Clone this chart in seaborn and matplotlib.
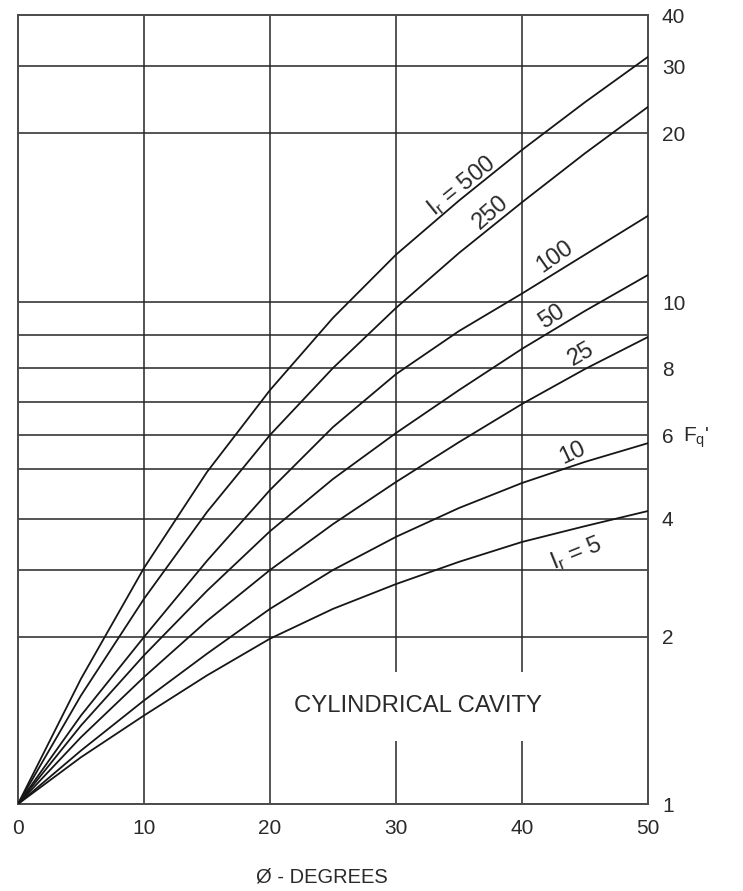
import numpy as np
import pandas as pd
import seaborn as sns
import matplotlib.pyplot as plt

# friction angle (degrees) and F_q' for each rigidity index
phi = [0, 5, 10, 15, 20, 25, 30, 35, 40, 45, 50]
ir_500 = [1, 1.75, 3.04, 4.94, 7.35, 9.52, 12.8, 16.0, 19.0, 24.6, 31.8]
ir_250 = [1, 1.65, 2.57, 4.14, 6.0, 8.0, 9.82, 12.9, 15.9, 18.8, 23.9]
ir_100 = [1, 1.53, 2.0, 3.18, 4.58, 6.24, 7.82, 9.12, 10.5, 12.8, 15.1]
ir_50 = [1, 1.47, 1.89, 2.69, 3.76, 4.80, 6.06, 7.35, 8.58, 9.73, 11.6]
ir_25 = [1, 1.40, 1.76, 2.24, 3.0, 3.90, 4.74, 5.79, 6.94, 7.97, 8.94]
ir_10 = [1, 1.32, 1.62, 1.90, 2.42, 3.0, 3.65, 4.22, 4.72, 5.21, 5.76]
ir_5 = [1, 1.28, 1.53, 1.77, 1.99, 2.42, 2.79, 3.16, 3.55, 3.86, 4.16]

curves = {500: ir_500, 250: ir_250, 100: ir_100, 50: ir_50,
          25: ir_25, 10: ir_10, 5: ir_5}

x_ticks = [0, 10, 20, 30, 40, 50]
y_ticks = [1, 2, 4, 6, 8, 10, 20, 30, 40]
h_grid = [2, 3, 4, 5, 6, 7, 8, 9, 10, 20, 30]
v_grid = [10, 20]
v_gap = [30, 40]   # these two are broken around the caption

# the printed axis is not a true log axis, so map it piecewise
scale_vals = [1, 2, 3, 4, 5, 6, 7, 8, 9, 10, 20, 30, 40]
scale_pos = [0, 167, 234, 285, 335, 369, 402, 436, 469, 502, 671, 738, 789]

def fwd(v):
    return np.interp(np.asarray(v, dtype=float), scale_vals, scale_pos)

def inv(p):
    return np.interp(np.asarray(p, dtype=float), scale_pos, scale_vals)

rows = []
for ir, vals in curves.items():
    for x, y in zip(phi, vals):
        rows.append({"phi": x, "Fq": y, "Ir": ir})
df = pd.DataFrame(rows)

sns.set_style("white")
plt.rcParams["font.family"] = ["Liberation Sans", "DejaVu Sans"]

W, H = 743, 891
fig = plt.figure(figsize=(W / 100, H / 100), dpi=100)
ax = fig.add_axes([18 / W, 1 - 804 / H, 630 / W, 789 / H])

line_col = "#161616"
grid_col = "#262626"
text_col = "#2a2a2a"

for y in h_grid:
    ax.axhline(y, color=grid_col, lw=1.1, zorder=1)
for x in v_grid:
    ax.axvline(x, color=grid_col, lw=1.1, zorder=1)
for x in v_gap:
    ax.vlines(x, 1, 1.38, color=grid_col, lw=1.1, zorder=1)
    ax.vlines(x, 1.79, 40, color=grid_col, lw=1.1, zorder=1)

sns.lineplot(data=df, x="phi", y="Fq", hue="Ir", units="Ir", estimator=None,
             palette=[line_col] * len(curves), legend=False, lw=1.3,
             ax=ax, zorder=3)

ax.set_yscale("function", functions=(fwd, inv))
ax.set_xlim(0, 50)
ax.set_ylim(1, 40)
ax.set_xticks(x_ticks)
ax.set_xticklabels([str(t) for t in x_ticks])
ax.yaxis.tick_right()
ax.set_yticks(y_ticks)
ax.set_yticklabels([str(t) for t in y_ticks])
ax.yaxis.set_minor_locator(plt.NullLocator())
ax.tick_params(axis="x", length=0, pad=11, labelsize=15, labelcolor=text_col)
ax.tick_params(axis="y", length=0, pad=10, labelsize=15, labelcolor=text_col)
ax.set_xlabel("")
ax.set_ylabel("")
for s in ax.spines.values():
    s.set_visible(True)
    s.set_color("#4a4a4a")
    s.set_linewidth(1.4)

def px(x, y):
    return x / W, 1 - y / H

# curve labels
labels = [
    (r"$\mathregular{I_r}$ = 500", 461, 186, 39),
    ("250", 491, 213, 41),
    ("100", 555, 257, 35),
    ("50", 552, 317, 33),
    ("25", 581, 354, 30),
    ("10", 573, 453, 25),
    (r"$\mathregular{I_r}$ = 5", 576, 553, 22),
]
for txt, x, y, rot in labels:
    fig.text(*px(x, y), txt, rotation=rot, fontsize=17, color=text_col,
             ha="center", va="center", rotation_mode="anchor")

fig.text(*px(418, 706), "CYLINDRICAL CAVITY", fontsize=17.2,
         color=text_col, ha="center", va="center")
fig.text(*px(322, 877), "Ø - DEGREES", fontsize=14.5, color=text_col,
         ha="center", va="center")
fig.text(*px(696, 438), r"$\mathregular{F_q}$'", fontsize=15,
         color=text_col, ha="center", va="center")

fig.savefig("out.png", dpi=100, facecolor="white")
